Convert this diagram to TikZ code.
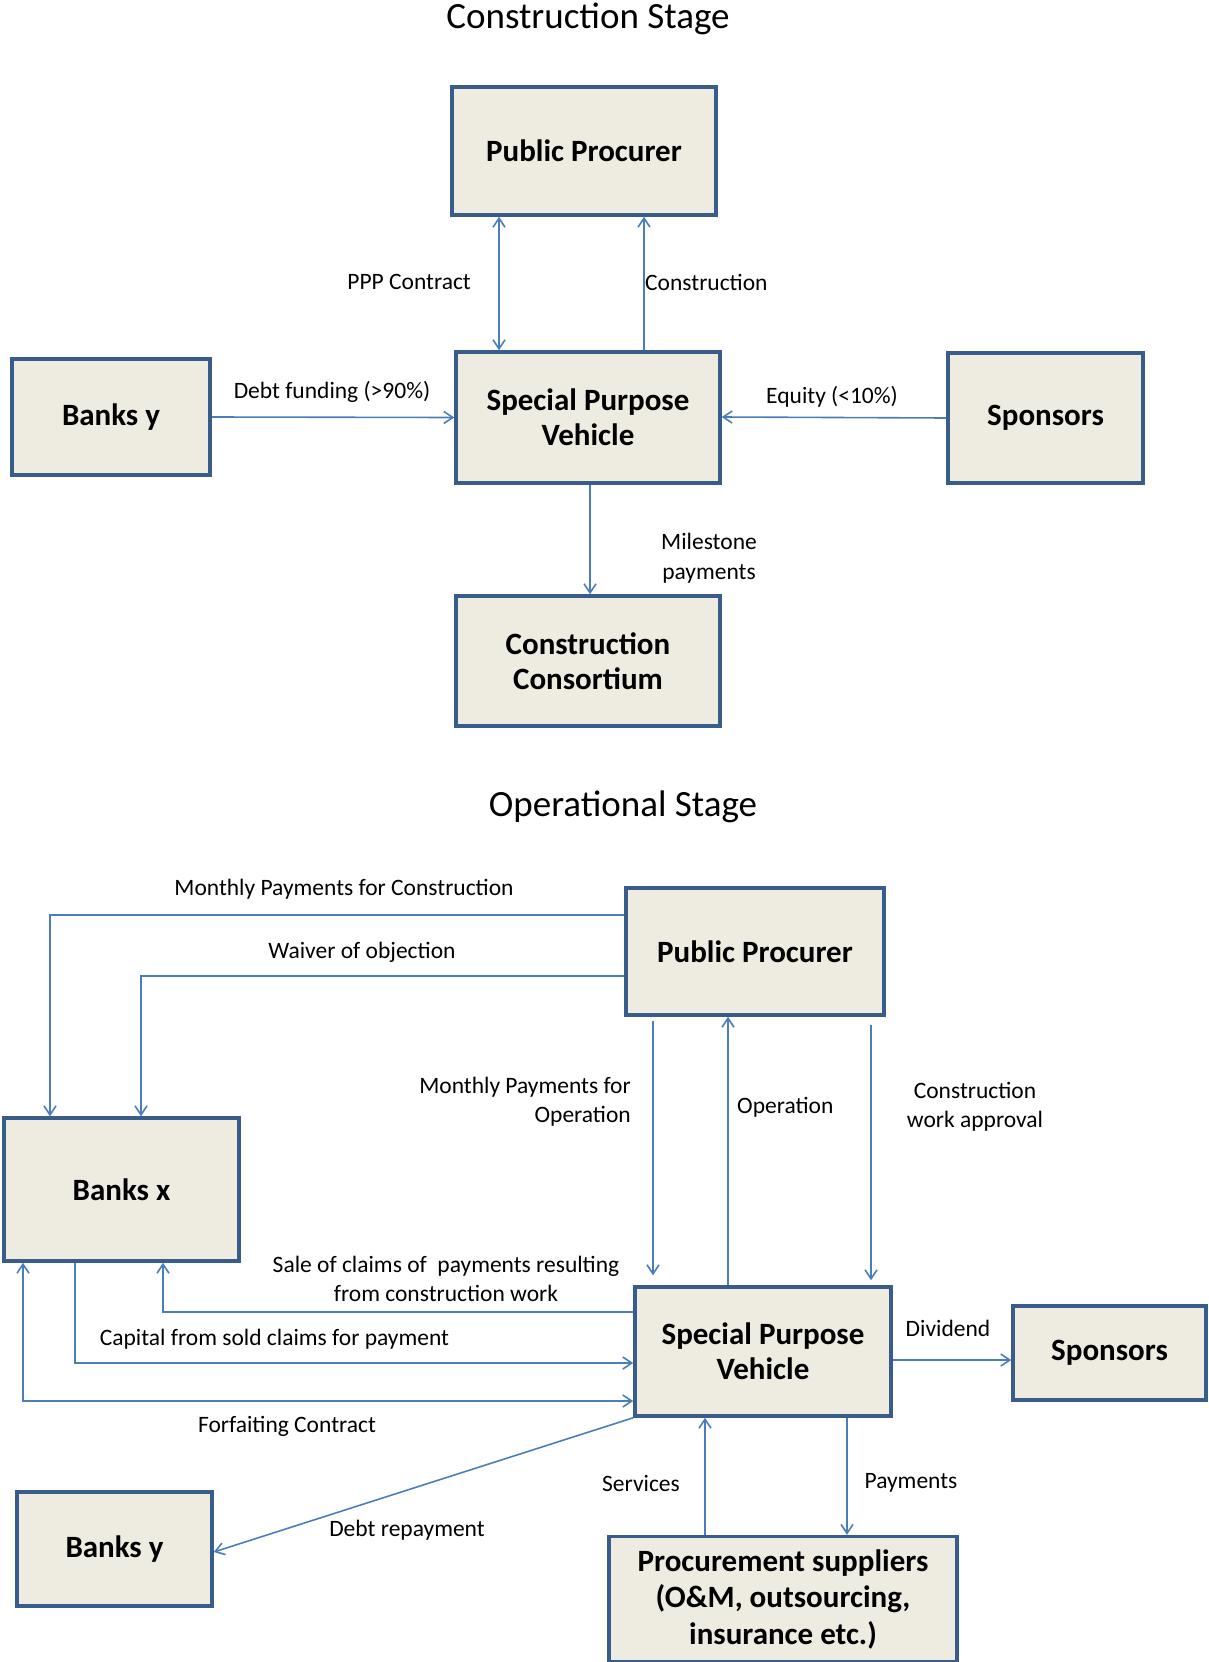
\documentclass[tikz,border=0pt]{standalone}
\usepackage{fontspec}
\setmainfont{Carlito}
\usetikzlibrary{arrows.meta}
\definecolor{boxline}{HTML}{385D8A}
\definecolor{boxfill}{HTML}{EEECE1}
\definecolor{linkblue}{HTML}{4A7EBB}
\tikzset{
  box/.style={draw=boxline, line width=3.5pt, fill=boxfill, inner sep=0pt, align=center,
    font=\fontsize{31}{35}\selectfont\bfseries},
  lbl/.style={inner sep=0pt, align=center, font=\fontsize{23.5}{29.5}\selectfont},
  ttl/.style={inner sep=0pt, font=\fontsize{37}{44}\selectfont},
  link/.style={draw=linkblue, line width=1.6pt, >={Straight Barb[length=9pt,width=12pt]}},
}
\begin{document}
\begin{tikzpicture}[x=1pt, y=-1pt]
\useasboundingbox (0,0) rectangle (1208,1662);

% ---------------- Construction stage ----------------
\node[ttl] (t1) at (588,19) {Construction Stage};

\node[box, minimum width=264, minimum height=128] (pp1) at (584,151) {Public Procurer};
\node[box, minimum width=264, minimum height=131] (spv1) at (588,417.5) {Special Purpose\\Vehicle};
\node[box, minimum width=198, minimum height=116] (by1) at (111,417) {Banks y};
\node[box, minimum width=195, minimum height=130] (sp1) at (1045.5,418) {Sponsors};
\node[box, minimum width=264, minimum height=130] (cc) at (588,661) {Construction\\Consortium};

\draw[link, <->] ([xshift=-85]pp1.south) -- ([xshift=-89]spv1.north);
\draw[link, ->] ([xshift=56]spv1.north) -- ([xshift=60]pp1.south);
\draw[link, ->] (by1.east) -- (spv1.west);
\draw[link, ->] (sp1.west) -- ([yshift=0.5]spv1.east);
\draw[link, ->] ([xshift=2]spv1.south) -- ([xshift=2]cc.north);

\node[lbl, anchor=east] (l1) at (471,282) {PPP Contract};
\node[lbl, anchor=west] (l2) at (645,282) {Construction};
\node[lbl] (l3) at (332,392) {Debt funding (>90\%)};
\node[lbl] (l4) at (832,397) {Equity (<10\%)};
\node[lbl] (l5) at (709,558) {Milestone\\payments};

% ---------------- Operational stage ----------------
\node[ttl] (t2) at (623,807) {Operational Stage};

\node[box, minimum width=258, minimum height=127] (pp2) at (755,951.5) {Public Procurer};
\node[box, minimum width=235, minimum height=143] (bx) at (121.5,1189.5) {Banks x};
\node[box, minimum width=256, minimum height=129] (spv2) at (763,1351.5) {Special Purpose\\Vehicle};
\node[box, minimum width=193, minimum height=94] (sp2) at (1109.5,1353) {Sponsors};
\node[box, minimum width=195, minimum height=114] (by2) at (114.5,1549) {Banks y};
\node[box, minimum width=348, minimum height=125, font=\fontsize{31}{36.5}\selectfont\bfseries] (ps) at (783,1599) {Procurement suppliers\\(O\&M, outsourcing,\\insurance etc.)};

\draw[link, ->] ([yshift=36.5]pp2.west) -| ([xshift=-71.5]bx.north);
\draw[link, ->] ([yshift=-24.5]pp2.west) -| ([xshift=19.5]bx.north);
\draw[link, ->] ([xshift=-102,yshift=-4]pp2.south) -- ([xshift=-110,yshift=10]spv2.north);
\draw[link, ->] ([xshift=-35]spv2.north) -- ([xshift=-27]pp2.south);
\draw[link, ->] ([xshift=116,yshift=-8]pp2.south) -- ([xshift=108,yshift=5]spv2.north);
\draw[link, ->] ([yshift=39.5]spv2.west) -| ([xshift=41.5]bx.south);
\draw[link, ->] ([xshift=-46.5]bx.south) |- ([yshift=-11.5]spv2.west);
\draw[link, <->] ([xshift=-98.5]bx.south) |- ([yshift=-49.5]spv2.west);
\draw[link, ->] ([yshift=-8.5]spv2.east) -- ([yshift=-7]sp2.west);
\draw[link, ->] (spv2.south west) -- ([yshift=-3]by2.east);
\draw[link, ->] ([xshift=-78]ps.north) -- ([xshift=-58]spv2.south);
\draw[link, ->] ([xshift=84]spv2.south) -- ([xshift=64]ps.north);

\node[lbl] (m1) at (344,889) {Monthly Payments for Construction};
\node[lbl] (m2) at (362,952) {Waiver of objection};
\node[lbl, anchor=east, align=right] (m3) at (631,1101.5) {Monthly Payments for\\Operation};
\node[lbl, anchor=west] (m4) at (737,1107) {Operation};
\node[lbl] (m5) at (975,1107) {Construction\\work approval};
\node[lbl] (m6) at (446,1279) {Sale of claims of \ payments resulting\\from construction work};
\node[lbl] (m7) at (274.5,1339) {Capital from sold claims for payment};
\node[lbl] (m8) at (287,1426) {Forfaiting Contract};
\node[lbl] (m9) at (948,1328) {Dividend};
\node[lbl] (m10) at (407,1530) {Debt repayment};
\node[lbl] (m11) at (641,1483) {Services};
\node[lbl] (m12) at (911,1483) {Payments};
\end{tikzpicture}
\end{document}
